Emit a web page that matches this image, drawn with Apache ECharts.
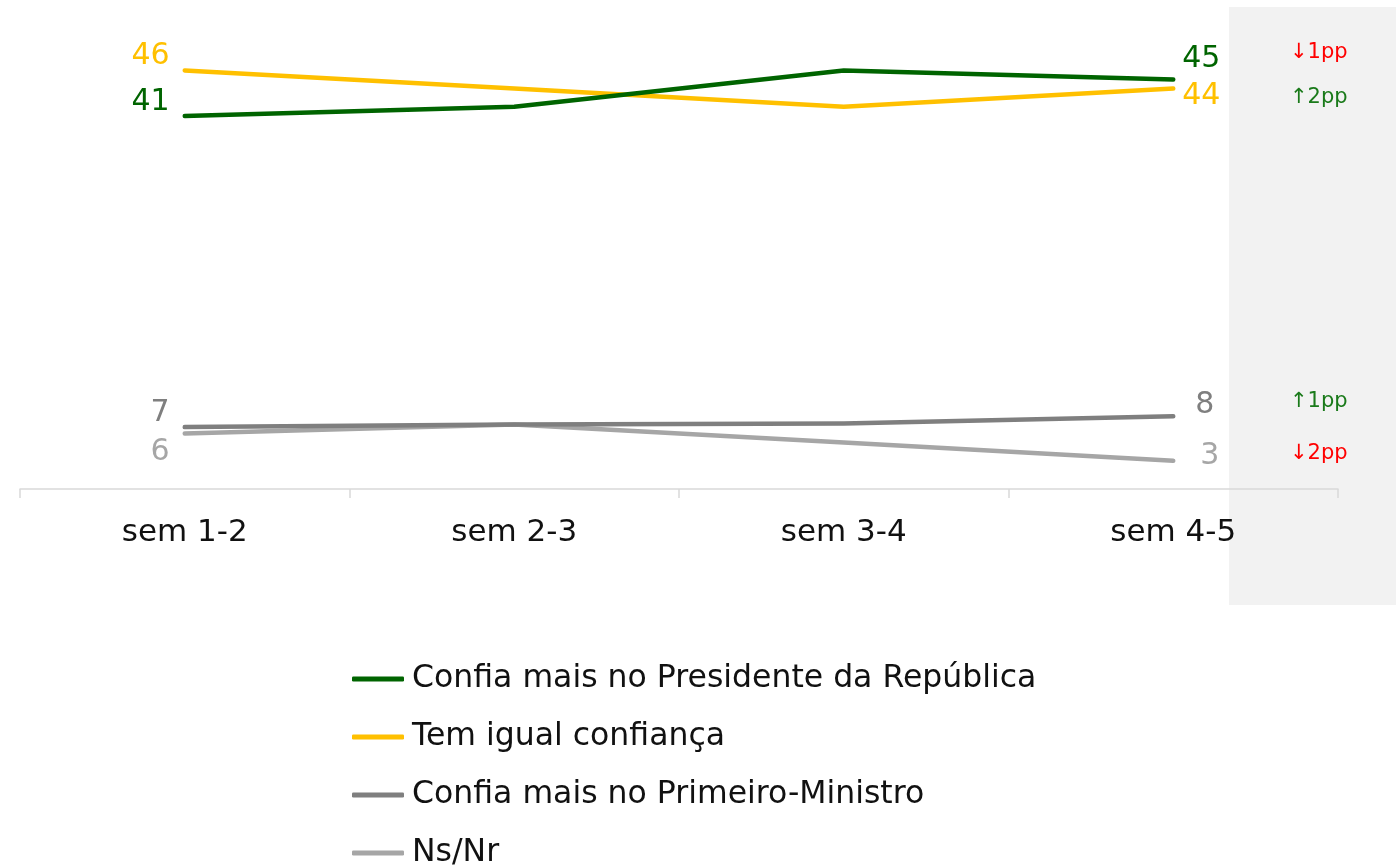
<!DOCTYPE html>
<html>
<head>
<meta charset="utf-8">
<script src="https://cdn.jsdelivr.net/npm/echarts@6/dist/echarts.min.js"></script>
<style>html,body{margin:0;padding:0;background:#fff}#c{width:1396px;height:865px}</style>
</head>
<body>
<div id="c"></div>
<script>
var categories = ['sem 1-2', 'sem 2-3', 'sem 3-4', 'sem 4-5'];
var seriesNames = ['Confia mais no Presidente da República', 'Tem igual confiança', 'Confia mais no Primeiro-Ministro', 'Ns/Nr'];
var presidente = [41, 42, 46, 45];
var igual = [46, 44, 42, 44];
var primeiroMinistro = [6.8, 7.1, 7.2, 8.0];
var nsnr = [6.1, 7.1, 5.1, 3.1];

var FONT = 'DejaVu Sans';
var FS = 30;
var styles = [
  {color: '#006400', change: '#FF0000', startDy: -14, endDy: -20, endDx: 47, chDy: -27},
  {color: '#FFC000', change: '#1A7A1A', startDy: -14, endDy: 8, endDx: 47, chDy: 9},
  {color: '#7F7F7F', change: '#1A7A1A', startDy: -14, endDy: -11, endDx: 41, chDy: -15},
  {color: '#A6A6A6', change: '#FF0000', startDy: 19, endDy: -5, endDx: 46, chDy: -7}
];
var allValues = [presidente, igual, primeiroMinistro, nsnr];

function buildData(vals, st) {
  var last = vals.length - 1;
  return vals.map(function (v, i) {
    if (i === 0) {
      return {value: v, label: {show: true, position: 'left', distance: 0, align: 'right', verticalAlign: 'middle', offset: [-15, st.startDy],
        formatter: String(Math.round(v)), color: st.color, fontSize: FS, fontFamily: FONT}};
    }
    if (i === last) {
      return {value: v, label: {show: true, position: 'right', distance: 0, align: 'right', verticalAlign: 'middle', offset: [st.endDx, st.endDy],
        formatter: String(Math.round(v)), color: st.color, fontSize: FS, fontFamily: FONT}};
    }
    return {value: v};
  });
}

var series = allValues.map(function (vals, k) {
  return {
    name: seriesNames[k], type: 'line', data: buildData(vals, styles[k]),
    symbol: 'circle', symbolSize: 0.1, showSymbol: true, smooth: false, z: 10 - k,
    lineStyle: {color: styles[k].color, width: 4.5, cap: 'round', join: 'round'},
    itemStyle: {color: styles[k].color},
    label: {show: false}
  };
});

var chart = echarts.init(document.getElementById('c'), null, {renderer: 'canvas'});
chart.setOption({
  animation: false,
  backgroundColor: '#fff',
  grid: {left: 20, right: 58, top: 34, bottom: 376, containLabel: false},
  xAxis: {
    type: 'category', data: categories, boundaryGap: true,
    axisLine: {lineStyle: {color: '#D9D9D9', width: 1.5}},
    axisTick: {show: true, length: 9, lineStyle: {color: '#D9D9D9', width: 1.5}},
    axisLabel: {color: '#111', fontSize: 31, fontFamily: FONT, margin: 28}
  },
  yAxis: {type: 'value', min: 0, max: 50, show: false, splitLine: {show: false}},
  legend: {
    orient: 'vertical', left: 352, top: 662, height: 240, padding: 0, itemWidth: 52, itemHeight: 5, itemGap: 24,
    icon: 'roundRect',
    textStyle: {color: '#111', fontSize: 31.5, fontFamily: FONT, lineHeight: 34, padding: [0, 0, 0, 3]},
    data: seriesNames
  },
  series: series
});

// background band + change labels (pp versus previous wave)
var graphics = [{type: 'rect', z: -10, silent: true, shape: {x: 1229, y: 7, width: 167, height: 598}, style: {fill: '#F2F2F2'}}];
allValues.forEach(function (vals, k) {
  var n = vals.length;
  var diff = Math.round(vals[n - 1] - vals[n - 2]);
  var arrow = diff >= 0 ? '\u2191' : '\u2193';
  var py = chart.convertToPixel({yAxisIndex: 0}, vals[n - 1]);
  graphics.push({type: 'text', z: 20, silent: true, x: 1290, y: py + styles[k].chDy,
    style: {text: arrow + Math.abs(diff) + 'pp', fill: styles[k].change, font: '21px "' + FONT + '"', textVerticalAlign: 'middle', textAlign: 'left'}});
});
chart.setOption({graphic: graphics});
</script>
</body>
</html>
